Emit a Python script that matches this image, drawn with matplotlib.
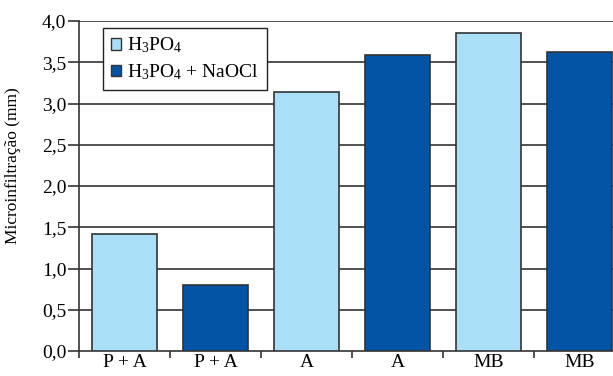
import matplotlib
matplotlib.use("Agg")
import matplotlib.pyplot as plt
import numpy as np
from matplotlib.patches import Patch

categories = ["P + A", "P + A", "A", "A", "MB", "MB"]
values = [1.42, 0.80, 3.14, 3.59, 3.86, 3.62]
series = ["light", "dark", "light", "dark", "light", "dark"]
legend_labels = ["H$_3$PO$_4$", "H$_3$PO$_4$ + NaOCl"]
yticks = [0.0, 0.5, 1.0, 1.5, 2.0, 2.5, 3.0, 3.5, 4.0]
ytick_labels = ["0,0", "0,5", "1,0", "1,5", "2,0", "2,5", "3,0", "3,5", "4,0"]

plt.rcParams['font.family'] = ['Liberation Serif', 'DejaVu Serif']
plt.rcParams['mathtext.fontset'] = 'custom'
plt.rcParams['mathtext.rm'] = 'Liberation Serif'
plt.rcParams['mathtext.it'] = 'Liberation Serif:italic'

colors = {"light": "#aadff8", "dark": "#0354a5"}
edge = "#333333"

fig = plt.figure(figsize=(6.13, 3.76), dpi=100)
ax = fig.add_axes([79/613, 1-351/376, 546/613, 330/376])

x = np.arange(len(categories))
ax.bar(x, values, width=0.72, color=[colors[s] for s in series],
       edgecolor=edge, linewidth=1.2, zorder=3)

ax.set_ylim(0, 4.0)
ax.set_xlim(-0.5, len(categories) - 0.5)
ax.set_yticks(yticks)
ax.set_yticklabels(ytick_labels, fontsize=14)
for yv in yticks[1:]:
    ax.axhline(yv, color="#333333", linewidth=1.2, zorder=1)

ax.set_xticks(np.arange(len(categories) + 1) - 0.5)
ax.set_xticklabels([])
ax.set_xticks(x, minor=True)
ax.set_xticklabels(categories, minor=True, fontsize=14)
ax.tick_params(axis='x', which='major', length=5, width=1.2, color="#333333", direction='out')
ax.tick_params(axis='x', which='minor', length=0, pad=2)
ax.tick_params(axis='y', length=8, width=1.2, color="#333333", direction='out', pad=1)

for s in ["top", "right"]:
    ax.spines[s].set_visible(False)
for s in ["left", "bottom"]:
    ax.spines[s].set_color("#333333")
    ax.spines[s].set_linewidth(1.2)

ax.set_ylabel("Microinfiltração (mm)", fontsize=12.5)
ax.yaxis.set_label_coords(-(79-21)/546, (351-166)/330)

handles = [Patch(facecolor=colors["light"], edgecolor=edge, linewidth=1.0),
           Patch(facecolor=colors["dark"], edgecolor=edge, linewidth=1.0)]
leg = ax.legend(handles, legend_labels, loc='upper left',
                bbox_to_anchor=((103-79)/546, (351-28)/330),
                fontsize=14, frameon=True, fancybox=False, framealpha=1,
                edgecolor="#222222", handlelength=0.55, handleheight=0.55,
                handletextpad=0.3, borderpad=0.4, labelspacing=0.35,
                borderaxespad=0)
leg.get_frame().set_linewidth(1.0)
leg.set_zorder(5)

fig.savefig("out.png", dpi=100)
